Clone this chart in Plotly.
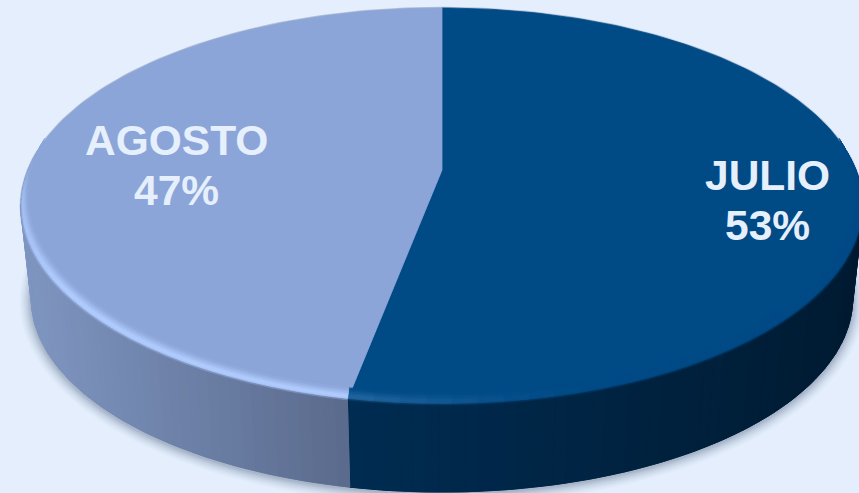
import numpy as np
import plotly.graph_objects as go

# Pie contents, clockwise from twelve o'clock
categories = ["JULIO", "AGOSTO"]
values = [53, 47]
top_colors = [(0, 74, 134), (140, 165, 216)]
rim_colors = [(34, 102, 160), (176, 204, 255)]
side_left = [(0, 44, 82), (126, 149, 192)]
side_right = [(0, 27, 50), (90, 106, 140)]
side_span = [(349, 856), (30, 349)]
label_centers = [(767, 175, 225), (176, 140, 190)]

BACKGROUND = "#E4EEFC"
TEXT = "#E6EFFC"
W, H = 859, 493

# Projection of the pie disc: a circle seen in perspective
CX, CY = 442.0, 170.0
RX, RY, PERSP = 414.0, 191.8, 0.1837
BASE_DROP, BASE_SCALE = 93.0, 0.975


def project(theta, scale=1.0, drop=0.0, x_scale=1.0, lift=0.0):
    u, v = np.sin(theta), -np.cos(theta)
    den = 1 - PERSP * v
    return (CX + scale * x_scale * RX * u / den,
            CY + drop + scale * RY * v / den - lift)


def mix(a, b, t):
    t = float(np.clip(t, 0, 1))
    return tuple(a[i] + (b[i] - a[i]) * t for i in range(3))


def css(c, alpha=None):
    r, g, b = (int(round(x)) for x in c)
    return f"rgb({r},{g},{b})" if alpha is None else f"rgba({r},{g},{b},{alpha})"


fig = go.Figure()


def polygon(x, y, color, seam=True):
    fig.add_trace(go.Scatter(
        x=list(x) + [x[0]], y=list(y) + [y[0]], mode="lines", fill="toself",
        fillcolor=color,
        line=dict(color=color if seam else "rgba(0,0,0,0)", width=0.8),
        hoverinfo="skip", showlegend=False))


# Slice extents in radians
shares = np.array(values, dtype=float) / sum(values)
edges = np.concatenate([[0.0], np.cumsum(shares)]) * 2 * np.pi

# Soft shadow beneath the base and a faint halo round the back edge
arc = np.linspace(np.radians(70), np.radians(290), 160)
for grow, alpha in zip(np.arange(15, 0, -1.5), [.02, .02, .025, .03, .035, .04, .05, .06, .07, .08]):
    bx, by = project(arc, BASE_SCALE, BASE_DROP)
    nx = np.sin(arc) * grow * 0.8
    ny = -np.cos(arc) * grow * 0.75 + 1.5
    polygon(bx + nx, by + ny, css((70, 88, 120), alpha), seam=False)

ring = np.linspace(0, 2 * np.pi, 240)
hx, hy = project(ring)
fig.add_trace(go.Scatter(x=hx, y=hy, mode="lines",
                         line=dict(color="rgba(90,110,150,0.35)", width=2.4),
                         hoverinfo="skip", showlegend=False))

# Top faces
for i in range(len(values)):
    t = np.linspace(edges[i], edges[i + 1], 180)
    px, py = project(t)
    polygon(np.r_[CX, px], np.r_[CY, py], css(top_colors[i]))

# Walls: a solid backing per slice, then strips shaded along its horizontal span
VISIBLE = (np.radians(100), np.radians(260))
for i in range(len(values)):
    lo, hi = max(edges[i], VISIBLE[0]), min(edges[i + 1], VISIBLE[1])
    whole = np.linspace(lo, hi, 120)
    tx, ty = project(whole)
    ux, uy = project(whole[::-1], BASE_SCALE, BASE_DROP)
    polygon(np.r_[tx, ux], np.r_[ty, uy], css(mix(side_left[i], side_right[i], 0.7)))
    stops = np.linspace(lo, hi, int((hi - lo) / np.radians(1.5)) + 2)
    for a, b in zip(stops[:-1], stops[1:]):
        tt = np.linspace(a, b, 4)
        tx, ty = project(tt)
        ux, uy = project(tt[::-1], BASE_SCALE, BASE_DROP)
        mid = (tx.mean() - side_span[i][0]) / (side_span[i][1] - side_span[i][0])
        polygon(np.r_[tx, ux], np.r_[ty, uy], css(mix(side_left[i], side_right[i], mid)))

# Bevel along the front rim of the top face
LAYERS = np.linspace(0, 1, 9)
for i in range(len(values)):
    lo, hi = max(edges[i], np.radians(84)), min(edges[i + 1], np.radians(276))
    stops = np.linspace(lo, hi, int((hi - lo) / np.radians(3)) + 2)
    for a, b in zip(stops[:-1], stops[1:]):
        middle = (a + b) / 2
        deg = np.degrees(middle)
        tt = np.linspace(a, b, 4)
        x_mid, _ = project(middle)
        if i == 0:
            glow = np.clip((590 - x_mid) / 240, 0, 1) ** 1.4
        else:
            glow = 1 - 0.4 * np.clip((deg - 235) / 27, 0, 1)
            glow *= np.clip((276 - deg) / 14, 0, 1)
        fade_end = np.clip(min(deg - 84, 276 - deg) / 14, 0, 1)
        span = side_span[i]
        wall = mix(side_left[i], side_right[i], (x_mid - span[0]) / (span[1] - span[0]))
        lit = mix(top_colors[i], rim_colors[i], glow)
        for w0, w1 in zip(LAYERS[:-1], LAYERS[1:]):
            w = (w0 + w1) / 2
            # From the wall colour through the rim light into the flat top colour
            if w < 0.2:
                base = mix(wall, lit, w / 0.2)
            elif w < 0.4:
                base = lit
            else:
                base = mix(lit, top_colors[i], (w - 0.4) / 0.6)
            color = mix(top_colors[i], base, fade_end)
            ax, ay = project(tt, x_scale=1 - 0.017 * w0, lift=12 * w0)
            cx, cy = project(tt[::-1], x_scale=1 - 0.017 * w1, lift=12 * w1)
            polygon(np.r_[ax, cx], np.r_[ay, cy], css(color))

# Two-line slice labels
for name, value, (lx, y1, y2) in zip(categories, values, label_centers):
    for text, ly in ((name, y1), (f"{value}%", y2)):
        fig.add_annotation(x=lx, y=ly, text=f"<b>{text}</b>", showarrow=False,
                           xanchor="center", yanchor="middle",
                           font=dict(family="Liberation Sans", size=42.5, color=TEXT))

fig.update_layout(
    width=W, height=H, margin=dict(l=0, r=0, t=0, b=0),
    paper_bgcolor=BACKGROUND, plot_bgcolor=BACKGROUND, showlegend=False,
    xaxis=dict(range=[0, W], visible=False, fixedrange=True),
    yaxis=dict(range=[H, 0], visible=False, fixedrange=True),
)
fig.write_html("out.html", config={"displayModeBar": False})
